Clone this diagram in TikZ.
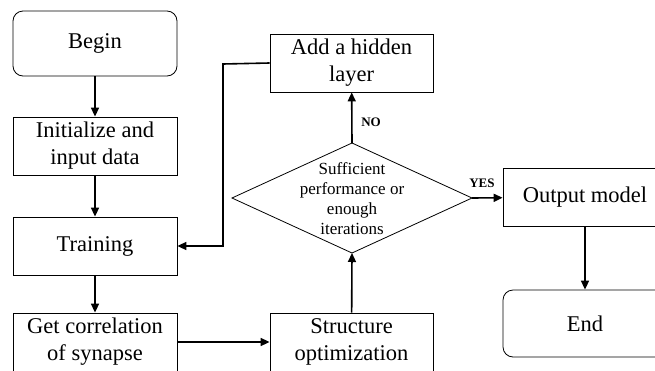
\documentclass[tikz,border=0pt]{standalone}
\usepackage{fontspec}
\setmainfont{Liberation Serif}
\usetikzlibrary{arrows.meta}
\begin{document}
\begin{tikzpicture}[x=1pt,y=-1pt,
  box/.style={draw,line width=0.8pt,minimum width=164pt,minimum height=58pt,inner sep=0pt,align=center,font=\fontsize{22.5}{27}\selectfont},
  term/.style={box,rounded corners=10pt},
  arr/.style={line width=1.6pt,-{Triangle[length=9pt,width=8pt]}},
  lbl/.style={font=\fontsize{13}{15}\bfseries\selectfont}]
\useasboundingbox (0,0) rectangle (655,370);
\clip (0,0) rectangle (655,370);
\node[term,minimum height=65pt] (begin) at (95,43.5) {Begin};
\node[box] (init) at (95,146) {Initialize and\\input data};
\node[box] (train) at (95,246) {Training};
\node[box] (getc) at (95,342) {Get correlation\\of synapse};
\node[box,minimum width=163pt] (struct) at (351.5,342) {Structure\\optimization};
\node[box,minimum width=163pt] (add) at (351.5,63) {Add a hidden\\layer};
\coordinate (dtop) at (352,143);
\coordinate (dleft) at (232,198);
\coordinate (dright) at (472,198);
\coordinate (dbot) at (352,253);
\draw[line width=0.8pt] (dtop) -- (dright) -- (dbot) -- (dleft) -- cycle;
\node[align=center,inner sep=0pt,font=\fontsize{17}{20}\selectfont] (dtext) at (352,199) {Sufficient\\performance or\\enough\\iterations};
\node[box] (out) at (585,197) {Output model};
\node[term,minimum height=67pt] (endn) at (585,323.5) {End};
\coordinate (bend) at (223,64);
\draw[arr] (begin) -- (init);
\draw[arr] (init) -- (train);
\draw[arr] (train) -- (getc);
\draw[arr] (getc) -- (struct);
\draw[arr] (struct) -- (dbot);
\draw[arr] (dtop) -- (add);
\draw[arr] (dright) -- (out);
\draw[arr] (out) -- (endn);
\draw[arr] (add.west) -- (bend) |- (train.east);
\node[lbl] (no) at (371,122) {NO};
\node[lbl] (yes) at (482,183) {YES};
\end{tikzpicture}
\end{document}
